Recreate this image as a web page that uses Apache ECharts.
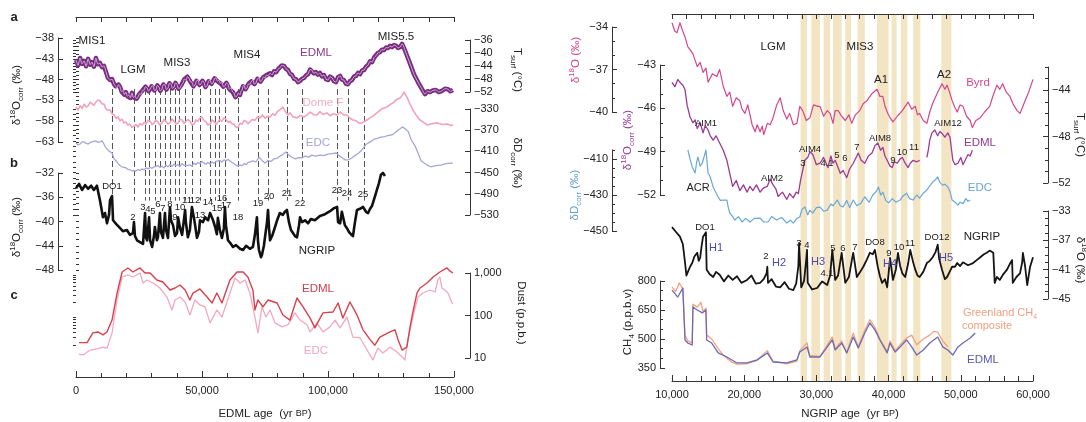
<!DOCTYPE html>
<html><head><meta charset="utf-8">
<script src="https://cdn.jsdelivr.net/npm/echarts@6/dist/echarts.min.js"></script>
<style>html,body{margin:0;padding:0;background:#fff}#c{width:1086px;height:422px}</style>
</head><body><div id="c"></div><script>
// ===================== DATA (age in yr BP, value in axis units) =====================
// ---- Left panel (EDML age) ----
const edmlD18O = [[0,-43.3],[800,-44.6],[1600,-42.8],[2400,-44.2],[3200,-43.5],[4000,-44.8],[4800,-43.0],[5600,-44.4],[6300,-43.8],[7100,-44.9],[7900,-42.8],[8700,-44.3],[9500,-44.0],[10300,-45.0],[11100,-44.7],[11900,-46.2],[12700,-47.6],[13500,-48.1],[14300,-47.9],[15100,-49.1],[15700,-49.6],[16300,-50.0],[16900,-49.2],[17500,-49.8],[18100,-50.9],[18600,-50.7],[19200,-51.6],[19800,-51.0],[20400,-52.0],[21000,-51.7],[21600,-52.4],[22200,-51.2],[22800,-52.3],[23400,-51.9],[24000,-52.6],[24600,-52.2],[25200,-51.4],[25800,-51.5],[26400,-50.6],[27000,-50.5],[27600,-49.7],[28200,-50.0],[28800,-50.8],[29400,-50.3],[30000,-49.6],[30600,-49.5],[31100,-50.6],[31700,-50.5],[32300,-49.4],[32900,-49.8],[33500,-50.7],[34100,-50.3],[34700,-49.2],[35300,-49.3],[35900,-50.4],[36500,-50.0],[37100,-48.9],[37700,-49.1],[38300,-50.1],[38900,-49.8],[39500,-48.8],[40100,-49.1],[40700,-50.2],[41300,-50.0],[41900,-49.2],[42500,-48.8],[43000,-47.9],[43600,-48.1],[44200,-47.3],[44800,-47.6],[45400,-48.5],[46000,-48.6],[46600,-49.6],[47200,-49.3],[47800,-48.3],[48400,-48.1],[49000,-49.3],[49600,-49.1],[50200,-48.3],[50800,-48.6],[51400,-49.8],[52000,-49.5],[52600,-48.4],[53200,-48.1],[53800,-49.0],[54400,-48.8],[55000,-47.7],[55600,-47.6],[56100,-48.4],[56700,-48.1],[57300,-48.9],[57900,-48.6],[58500,-49.7],[59100,-49.5],[59700,-48.8],[60300,-49.1],[60900,-50.3],[61500,-50.0],[62100,-50.9],[62700,-51.2],[63300,-52.2],[63900,-51.9],[64500,-51.2],[65100,-51.7],[65500,-50.8],[65900,-50.5],[66300,-49.6],[66700,-49.3],[67300,-50.3],[67900,-50.0],[68500,-49.0],[69000,-49.1],[69600,-48.4],[70200,-48.1],[70800,-49.1],[71400,-48.8],[72000,-47.8],[72600,-47.6],[73200,-48.5],[73800,-48.1],[74400,-47.4],[75000,-47.6],[75600,-46.9],[76200,-47.1],[77000,-46.5],[77800,-46.9],[78600,-46.0],[79400,-46.2],[80200,-45.5],[80900,-45.2],[81700,-44.6],[82500,-44.7],[83300,-45.4],[84100,-45.7],[84900,-46.6],[85700,-46.9],[86500,-47.8],[87300,-47.9],[88100,-48.6],[88900,-48.3],[89700,-47.8],[90500,-47.6],[91300,-47.0],[92100,-46.7],[92900,-45.6],[93600,-45.7],[94400,-46.5],[95200,-46.2],[96000,-46.8],[96800,-46.4],[97600,-47.2],[98400,-46.9],[99200,-47.9],[100000,-48.1],[100800,-47.3],[101600,-47.6],[102400,-48.4],[103200,-48.6],[104000,-47.4],[104800,-47.1],[105500,-48.0],[106300,-48.1],[107100,-49.0],[107900,-49.1],[108700,-48.4],[109500,-48.1],[110300,-47.3],[111100,-47.1],[111900,-46.4],[112700,-46.7],[113500,-45.8],[114300,-45.7],[115100,-44.9],[115900,-44.5],[116700,-43.6],[117500,-43.8],[118300,-42.7],[119000,-42.3],[119800,-41.6],[120600,-41.4],[121400,-40.8],[122200,-40.9],[123000,-40.3],[123800,-40.4],[124600,-39.9],[125400,-40.2],[126200,-39.7],[127000,-39.9],[127800,-40.4],[128600,-40.2],[129400,-39.4],[130500,-40.9],[131700,-42.8],[132900,-44.7],[134100,-46.7],[135700,-48.6],[137300,-50.3],[138500,-51.5],[139500,-50.8],[140500,-51.0],[141600,-50.6],[142800,-50.5],[144000,-51.0],[145200,-50.7],[146400,-50.2],[147600,-50.3],[148600,-50.8],[149600,-50.5]];

const domeFD18O = [[0,-54.6],[800,-55.3],[1600,-54.3],[2400,-54.9],[3200,-53.9],[4000,-54.6],[4800,-54.3],[5600,-53.4],[6300,-53.6],[7100,-54.2],[7900,-53.4],[8700,-52.9],[9500,-53.1],[10300,-53.8],[11100,-53.9],[11700,-54.8],[12300,-55.3],[12900,-55.0],[13500,-55.3],[14300,-56.2],[15100,-56.5],[15900,-57.3],[16700,-57.0],[17500,-57.9],[18300,-57.5],[19000,-58.4],[19800,-58.2],[20600,-58.9],[21400,-58.7],[22200,-59.5],[23000,-59.2],[23800,-58.8],[24600,-59.4],[25400,-58.6],[26200,-58.9],[27000,-58.3],[27800,-58.7],[28600,-57.8],[29400,-58.0],[30200,-58.8],[31000,-58.4],[31700,-57.7],[32500,-58.2],[33300,-58.9],[34100,-58.4],[34900,-57.6],[35700,-58.0],[36500,-58.7],[37300,-58.4],[38100,-57.5],[38900,-58.0],[39700,-58.7],[40500,-58.4],[41300,-57.5],[42100,-57.7],[42900,-58.5],[43600,-58.2],[44400,-57.6],[45200,-58.0],[46000,-58.9],[46800,-58.7],[47600,-57.7],[48400,-58.0],[49200,-57.2],[50000,-57.0],[50800,-57.8],[51600,-58.2],[52400,-58.9],[53200,-58.7],[54000,-57.7],[54800,-58.0],[55600,-58.8],[56300,-58.7],[57100,-57.6],[57900,-58.0],[58700,-57.2],[59500,-57.5],[60300,-58.3],[61100,-58.0],[61900,-58.6],[62700,-58.7],[63500,-59.5],[64300,-59.4],[65100,-58.5],[65900,-58.7],[66700,-57.8],[67500,-58.0],[68300,-58.6],[69000,-58.4],[70000,-57.6],[71000,-57.8],[72000,-57.0],[73000,-57.2],[74000,-56.5],[75000,-57.3],[76000,-56.8],[77000,-57.0],[78000,-56.2],[79000,-56.6],[80000,-55.6],[80900,-55.3],[82100,-54.6],[83000,-55.6],[84100,-56.5],[85000,-56.0],[86000,-56.9],[87700,-57.2],[89000,-56.6],[90500,-57.0],[91700,-56.5],[93000,-55.8],[94300,-56.4],[95600,-56.5],[96800,-55.7],[98000,-56.4],[99600,-56.0],[100800,-56.7],[102200,-56.2],[103600,-56.5],[104800,-55.8],[106200,-56.5],[107500,-56.5],[108800,-57.3],[109900,-57.7],[111200,-57.9],[112500,-58.5],[113500,-58.4],[115000,-57.9],[116700,-57.2],[118200,-56.6],[119800,-55.8],[121500,-55.0],[123400,-54.6],[124600,-54.0],[125800,-53.6],[127200,-52.8],[128600,-52.4],[129400,-51.8],[130200,-51.0],[131300,-52.2],[132500,-53.8],[133700,-55.3],[135000,-56.5],[136500,-57.7],[137900,-58.3],[139300,-58.9],[141300,-58.6],[143200,-58.4],[145200,-58.8],[147200,-58.7],[148500,-59.0],[149600,-58.9]];

const edcDD = [[0,-394],[800,-398],[1600,-396],[2400,-392],[3200,-392],[4000,-395],[4800,-396],[5600,-393],[6300,-394],[7100,-391],[7900,-390],[8700,-393],[9500,-392],[10300,-390],[11100,-396],[11700,-402],[12300,-404],[13000,-409],[13500,-411],[14300,-413],[15100,-424],[15900,-428],[16700,-433],[17500,-437],[18300,-439],[19000,-442],[19800,-441],[20600,-444],[21400,-445],[22200,-447],[23000,-446],[23800,-447],[24600,-444],[25400,-446],[26200,-443],[27000,-445],[27800,-441],[28600,-443],[29400,-440],[30200,-442],[31000,-439],[31700,-441],[32500,-437],[33300,-440],[34100,-438],[34900,-441],[35700,-436],[36500,-439],[37300,-435],[38100,-438],[38900,-434],[39700,-437],[40500,-435],[41300,-438],[42100,-433],[42900,-436],[43600,-434],[44400,-437],[45200,-435],[46000,-438],[46800,-432],[47600,-435],[48400,-431],[49200,-433],[50000,-429],[50800,-432],[51600,-434],[52400,-431],[53200,-434],[54000,-430],[54800,-432],[55600,-429],[56300,-431],[57100,-427],[57900,-430],[58700,-426],[59500,-428],[60300,-425],[61100,-428],[61900,-431],[62700,-433],[63500,-436],[64300,-438],[65100,-436],[65900,-437],[66700,-433],[67500,-435],[68300,-431],[69000,-432],[70200,-428],[71400,-430],[72600,-421],[73800,-427],[75000,-432],[76200,-427],[77400,-429],[78600,-424],[79800,-423],[80900,-419],[82000,-416],[83300,-411],[84500,-417],[85700,-421],[87000,-424],[88300,-422],[89700,-422],[91000,-419],[92300,-421],[93600,-417],[95000,-419],[96800,-417],[98400,-418],[100000,-415],[101600,-414],[103200,-413],[104400,-418],[105600,-422],[106800,-426],[108000,-426],[109300,-423],[110700,-418],[112200,-413],[113500,-407],[115000,-397],[116700,-392],[118400,-387],[119800,-385],[121000,-383],[122400,-382],[123800,-380],[125400,-379],[126800,-374],[128000,-369],[129600,-364],[130800,-368],[131900,-373],[133000,-388],[134600,-400],[135700,-413],[137000,-428],[138200,-432],[139400,-436],[140800,-439],[142800,-437],[144800,-436],[146800,-433],[148800,-432],[149600,-432]];

const ngripD18OLeft = [[0,-34.5],[1200,-33.8],[2400,-34.8],[3600,-34.0],[4800,-34.6],[6000,-34.1],[7100,-34.8],[8300,-34.1],[9500,-36.5],[10700,-39.3],[11500,-38.6],[12300,-40.3],[13100,-38.9],[13500,-36.5],[14300,-35.8],[14700,-39.8],[15900,-40.4],[17500,-41.1],[18600,-41.6],[20200,-41.4],[21400,-42.2],[22600,-41.9],[23000,-40.1],[23400,-42.4],[24200,-43.1],[25400,-43.4],[26600,-43.7],[27400,-38.6],[27800,-42.7],[28200,-43.1],[29000,-39.3],[29400,-43.1],[30200,-44.2],[31000,-42.2],[31300,-40.9],[32100,-43.1],[32500,-42.6],[33300,-38.6],[33700,-41.7],[34500,-42.7],[35300,-38.6],[35700,-41.4],[36500,-42.7],[37300,-37.6],[37700,-39.8],[38500,-40.6],[39300,-42.4],[40100,-41.9],[40500,-39.3],[41300,-41.1],[42100,-42.2],[43300,-38.1],[43600,-40.1],[44400,-42.6],[45200,-41.4],[46000,-37.6],[46800,-39.4],[47200,-40.4],[48000,-42.7],[48800,-41.7],[49200,-39.8],[50400,-40.1],[51200,-39.3],[52400,-39.8],[53200,-38.6],[54400,-39.8],[55200,-40.9],[55900,-42.1],[56300,-39.4],[57100,-41.4],[57900,-42.7],[58700,-41.1],[59100,-37.6],[59500,-40.6],[60300,-43.1],[61500,-43.7],[62300,-44.2],[63500,-43.9],[65100,-44.5],[66300,-44.7],[67500,-44.0],[69000,-44.5],[70200,-44.2],[71000,-42.2],[71800,-39.3],[72200,-43.1],[72600,-44.7],[73400,-45.9],[73800,-45.5],[74600,-43.9],[75000,-42.6],[75800,-40.1],[76200,-38.1],[76600,-41.1],[77000,-43.1],[77800,-42.4],[78600,-41.4],[79800,-39.8],[80900,-38.6],[82100,-38.9],[82900,-38.4],[83700,-38.1],[84500,-40.1],[85300,-41.4],[86100,-41.9],[86900,-42.4],[87700,-42.6],[88500,-40.6],[88900,-39.3],[89700,-40.1],[90900,-39.8],[92100,-40.3],[93200,-39.6],[94800,-39.8],[96800,-39.1],[98800,-38.8],[100800,-38.3],[102400,-37.8],[103600,-37.6],[104000,-40.1],[104800,-40.3],[105500,-38.4],[105900,-38.1],[106700,-40.6],[107500,-41.1],[108300,-41.7],[109100,-42.1],[109900,-42.4],[110700,-40.1],[111500,-38.1],[112700,-37.9],[113900,-37.6],[115100,-38.4],[115900,-38.6],[116700,-37.9],[117500,-37.4],[118600,-35.9],[119400,-34.8],[120200,-33.7],[121000,-32.3],[121800,-32.0],[122600,-32.5]];

const dustEDML = [[1200,23],[4400,23],[6700,39],[8700,41],[10700,35],[12300,41],[14300,78],[16300,338],[18300,1056],[20600,1313],[22600,1056],[25400,1313],[27400,1000],[29400,1000],[32100,684],[34500,614],[37300,398],[39300,444],[41300,522],[43300,398],[45200,232],[46400,338],[49200,421],[52000,272],[54000,197],[55900,338],[57900,197],[61100,684],[63900,1056],[66300,1056],[68200,805],[70200,398],[71000,135],[72200,232],[74200,159],[76200,232],[79800,197],[82100,103],[84900,78],[87700,258],[90100,159],[92900,87],[94800,51],[98000,115],[102000,121],[104000,197],[105900,87],[108700,208],[111500,103],[113900,46],[116700,27],[118600,20],[120600,31],[124600,41],[126600,46],[127800,27],[129400,15.4],[131300,18],[132500,51],[133700,121],[135300,338],[136500,444],[139300,581],[141700,805],[144400,1056],[147200,1313],[148400,1112],[149600,1000]];

const dustEDC = [[1200,12.4],[2800,11.8],[5600,15.4],[8300,16.3],[10700,18],[12300,17],[14300,39],[16300,232],[18300,805],[20600,898],[22600,805],[25400,1000],[26600,581],[28200,684],[30600,581],[33300,444],[36100,272],[38100,135],[39300,232],[41300,272],[43300,208],[45200,103],[47200,232],[49200,177],[51200,159],[53200,67],[55900,135],[57900,92],[61100,338],[63100,762],[65100,581],[67100,684],[69000,338],[71000,92],[72200,39],[73800,159],[75400,92],[77000,135],[79000,67],[81700,54],[84100,60],[86900,115],[88900,78],[91700,60],[92900,41],[95600,67],[98000,41],[100800,54],[102800,78],[104800,51],[107500,92],[108700,54],[109900,31],[112700,30],[115500,15.4],[117800,9.0],[119800,17],[121800,13.1],[124600,18],[127400,13.8],[129400,10.6],[130500,9.0],[131700,27],[133700,92],[135700,272],[137700,338],[140500,398],[142500,357],[143600,684],[144400,805],[145200,444],[146400,398],[147600,338],[149200,197],[149600,187]];

const doEventAges = [14300,23000,27400,29000,31300,33300,35300,37300,39300,40900,43300,46000,49200,53200,55200,56700,59100,64300,72200,76200,83700,89700,103600,107900,114300];

// ---- Right panel (NGRIP age) ----
const byrdD18O = [[10000,-33.7],[10400,-34.3],[10700,-34.4],[11100,-33.7],[11500,-34.3],[11800,-34.7],[12200,-35.4],[12500,-35.6],[12900,-35.9],[13500,-36.8],[13900,-36.5],[14300,-37.2],[14700,-36.9],[15000,-37.9],[15600,-37.3],[16200,-37.5],[16600,-37.0],[17100,-38.2],[17600,-38.9],[18000,-38.6],[18400,-39.6],[18900,-39.0],[19400,-39.2],[19700,-39.8],[20100,-40.1],[20500,-39.5],[21100,-40.9],[21500,-41.4],[21800,-40.9],[22200,-41.4],[22500,-41.0],[22700,-41.6],[23200,-40.8],[23600,-40.9],[24000,-40.4],[24500,-39.5],[25000,-39.0],[25400,-39.9],[25900,-40.5],[26300,-40.1],[26800,-40.9],[27300,-40.8],[27700,-39.6],[28100,-39.9],[28600,-40.6],[29100,-40.4],[29600,-39.5],[30200,-39.6],[30500,-39.6],[31000,-40.3],[31500,-39.9],[31900,-40.1],[32300,-40.8],[32600,-39.9],[33000,-39.9],[33500,-40.3],[34000,-40.6],[34500,-40.2],[34900,-40.8],[35400,-40.2],[36000,-39.9],[36500,-39.4],[37000,-39.2],[37700,-38.7],[38400,-38.4],[38800,-38.9],[39200,-38.9],[39500,-39.6],[39900,-40.1],[40200,-40.4],[40600,-40.7],[41200,-40.3],[41900,-39.9],[42300,-39.6],[42700,-39.3],[43200,-39.8],[43700,-39.6],[44000,-40.2],[44300,-40.1],[44800,-40.6],[45300,-40.8],[45700,-40.0],[46100,-39.4],[46800,-38.6],[47400,-38.0],[47800,-38.4],[48100,-38.1],[48500,-38.7],[48800,-39.2],[49200,-39.7],[49500,-40.0],[49900,-39.5],[50300,-39.6],[50800,-40.3],[51300,-40.6],[51600,-41.1],[52100,-40.6],[52700,-40.4],[53300,-40.0],[54000,-39.6],[54500,-38.8],[55000,-38.1],[55400,-38.4],[55800,-38.0],[56300,-38.6],[56800,-38.9],[57300,-39.5],[57800,-39.9],[58200,-40.1],[58600,-39.6],[58900,-39.2],[59400,-38.6],[60000,-37.7]];

const edmlD18ORight = [[10000,-44.2],[10400,-44.5],[10800,-44.0],[11100,-44.2],[11500,-44.4],[11800,-44.7],[12100,-45.8],[12500,-46.6],[12900,-47.0],[13200,-46.8],[13500,-47.4],[13900,-47.0],[14300,-47.7],[14600,-47.2],[15000,-47.5],[15300,-47.9],[15700,-48.2],[16100,-47.9],[16600,-48.4],[17100,-48.9],[17600,-49.6],[18000,-50.5],[18400,-51.4],[18900,-51.0],[19400,-51.7],[19900,-51.3],[20400,-51.8],[20800,-51.4],[21200,-51.7],[21700,-51.3],[22200,-51.8],[22700,-51.5],[23200,-51.4],[23600,-50.9],[24000,-51.3],[24400,-51.6],[24700,-52.1],[25300,-51.8],[25900,-52.3],[26300,-51.9],[26800,-52.2],[27200,-51.8],[27500,-51.9],[27800,-51.0],[28100,-50.3],[28400,-49.6],[28800,-49.4],[29100,-49.0],[29500,-49.2],[30000,-49.9],[30500,-49.8],[31000,-49.4],[31600,-50.1],[32000,-49.3],[32300,-49.8],[32600,-49.6],[33000,-50.1],[33300,-50.5],[33700,-50.3],[34200,-50.8],[34600,-50.2],[35100,-49.8],[35500,-49.4],[35800,-49.1],[36200,-49.6],[36700,-49.8],[37200,-49.3],[37700,-49.1],[38100,-48.6],[38500,-48.4],[38900,-48.9],[39200,-48.7],[39500,-49.3],[39800,-49.6],[40200,-50.0],[40500,-50.1],[40800,-49.7],[41200,-49.8],[41600,-49.5],[41900,-49.4],[42300,-49.8],[42700,-50.1],[43000,-49.8],[43400,-49.6],[43900,-49.7],[44300,-49.6],[44800,null],[45300,-49.4],[45500,-48.9],[45700,-48.2],[46000,-47.7],[46400,-47.5],[46800,-47.9],[47100,-47.6],[47500,-47.8],[47800,-48.0],[48200,-47.7],[48500,-48.0],[48700,-48.8],[48900,-49.6],[49200,-49.9],[49600,-49.8],[50000,-49.4],[50300,-49.9],[50600,-49.6],[51000,-49.2],[51300,-49.3],[51600,-48.9]];

const edcDDRight = [[12200,-405],[12500,-410],[12800,-414.4],[13200,-417.8],[13400,-412],[13600,-408.9],[13900,-414],[14200,-412.2],[14500,-408],[14700,-405],[15000,-417.8],[15300,-420],[15700,-425.6],[16000,-428],[16400,-431.1],[16700,-433],[17100,-432.8],[17600,-432.8],[17800,-437],[18000,-440],[18400,-442],[18700,-443.9],[19200,-442],[19700,-445],[20200,-443],[20800,-445],[21400,-443],[22200,-442.8],[22700,-445],[23300,-445],[23800,-442],[24500,-443.9],[25200,-442.5],[25900,-445.6],[26400,-444],[26800,-445.6],[27300,-443],[27700,-442.2],[28000,-438],[28400,-436.7],[28800,-441],[29100,-438.5],[29500,-440],[30000,-437],[30500,-436.7],[31000,-439],[31500,-438.4],[32000,-435],[32300,-436],[32900,-432.8],[33300,-436],[33700,-436.7],[34200,-433],[34600,-437],[35100,-432.8],[35600,-436],[36200,-434.4],[36700,-431],[37300,-434],[37800,-430],[38300,-428],[38600,-425.6],[38900,-430],[39200,-428.5],[39600,-433],[40000,-434.4],[40500,-432],[41000,-434],[41600,-432.8],[42000,-430.5],[42500,-429],[42900,-432],[43400,-432.8],[43900,-430],[44300,-431.7],[44800,-429],[45300,-427.2],[45700,-425],[46100,-422.8],[46500,-421.5],[46800,-420],[47100,-423],[47500,-424.5],[47800,-424],[48200,-425.6],[48500,-428],[48800,-432.8],[49200,-434],[49600,-435.6],[49900,-434],[50300,-434.8],[50700,-432],[51000,-433.5],[51300,-432.8]];

const ngripD18ORight = [[10000,-35.2],[10500,-35.8],[11100,-36.5],[11500,-37.5],[11800,-40.0],[12000,-41.8],[12200,-41.3],[12500,-40.6],[12800,-40.1],[13100,-39.2],[13500,-38.7],[13700,-39.8],[13900,-39.4],[14100,-37.8],[14300,-36.5],[14700,-35.9],[14800,-41.0],[15200,-41.6],[15700,-42.0],[16100,-41.3],[16600,-41.7],[17200,-42.6],[17800,-41.8],[18400,-42.4],[19000,-41.9],[19600,-42.8],[20400,-42.4],[21000,-41.8],[21600,-42.9],[22200,-42.8],[22700,-42.3],[23100,-41.5],[23200,-40.6],[23300,-42.8],[23800,-42.3],[24400,-43.3],[25000,-43.4],[25600,-42.7],[26200,-43.6],[26800,-43.8],[27200,-42.9],[27500,-40.5],[27600,-37.4],[27900,-43.4],[28300,-42.5],[28600,-39.5],[28700,-38.3],[28800,-42.8],[29400,-43.7],[30100,-43.5],[30800,-42.6],[31500,-43.1],[31900,-41.8],[32200,-38.3],[32600,-42.4],[33000,-41.8],[33500,-38.7],[34000,-42.8],[34500,-42.0],[35000,-39.2],[35100,-38.7],[35600,-42.0],[36000,-41.4],[36500,-40.6],[37000,-39.6],[37400,-38.7],[37800,-38.9],[38100,-38.3],[38500,-40.6],[38800,-41.9],[39100,-42.8],[39500,-42.3],[39800,-43.4],[40000,-41.5],[40200,-39.4],[40600,-42.4],[41000,-41.0],[41300,-38.7],[41600,-40.5],[41900,-41.5],[42300,-42.0],[42700,-40.2],[43000,-38.3],[43400,-40.0],[43700,-41.0],[44000,-41.8],[44300,-42.0],[44800,-41.3],[45300,-40.1],[45700,-39.8],[46100,-39.3],[46500,-38.6],[46800,-37.6],[47000,-39.5],[47400,-41.0],[47800,-42.3],[48100,-42.0],[48500,-41.2],[48800,-40.6],[49200,-40.6],[49500,-40.1],[49900,-40.5],[50300,-40.0],[51000,-40.4],[51700,-40.1],[52200,-39.7],[52700,-39.3],[53200,-38.9],[53600,-38.7],[54000,-38.4],[54500,-38.7],[54700,-42.8],[55000,-42.0],[55400,-42.4],[55900,-41.6],[56400,-41.0],[56800,-40.2],[57100,-39.7],[57200,-42.8],[57700,-42.0],[58200,-41.5],[58500,-40.0],[58600,-38.7],[58900,-40.5],[59200,-43.1],[59600,-40.6],[60000,-39.3]];

const ch4EDML = [[10000,753],[10800,717],[11500,764],[11800,495],[12200,479],[12800,469],[12900,666],[13500,650],[14200,635],[14700,650],[14800,495],[15500,479],[16400,428],[17600,407],[19000,376],[20400,376],[21800,392],[23200,428],[24000,381],[25900,376],[27300,392],[27700,433],[28700,459],[29100,407],[30500,407],[32200,495],[32600,443],[33500,479],[34200,428],[35100,510],[35800,454],[36700,531],[37400,583],[38100,547],[38800,495],[39800,428],[40200,479],[40900,433],[41600,459],[42500,495],[43200,459],[43900,417],[44800,443],[45700,479],[46800,510],[47500,459],[48200,443],[48900,417],[49600,459],[50300,479],[51300,505],[52000,531]];

const ch4Greenland = [[10000,770],[10500,745],[11000,790],[11500,760],[11800,520],[12200,490],[12800,480],[12900,680],[13500,665],[14000,690],[14300,640],[14700,660],[14800,520],[15500,500],[16400,450],[17000,420],[17600,400],[18300,380],[19000,370],[20400,372],[21800,390],[23200,440],[24000,385],[25900,372],[27300,385],[27700,440],[28700,480],[29100,415],[30500,410],[32200,510],[32600,450],[33500,490],[34200,430],[35100,530],[35800,460],[36700,545],[37400,600],[38100,560],[38800,500],[39800,435],[40200,490],[40900,440],[41600,470],[42500,505],[43200,520],[43900,470],[44800,500],[45700,520],[46300,540],[46800,535],[47500,490],[48200,460]];

const mis3Bands = [[27800,28700],[29300,30500],[31000,31900],[32300,33500],[34000,34800],[35700,36700],[38400,40000],[40400,41100],[41700,42600],[43400,44400],[47300,48700]];

// tick label values
const ticksEdmlL = [-63,-58,-53,-48,-43,-38];
const ticksNgripL = [-48,-44,-40,-36,-32];
const ticksTsurfL = [-52,-48,-44,-40,-36];
const ticksDDL = [-530,-490,-450,-410,-370,-330];
const ticksDust = [10,100,1000];
const ticksByrd = [-40,-37,-34];
const ticksEdmlR = [-52,-49,-46,-43];
const ticksEdcR = [-450,-430,-410];
const ticksCh4 = [350,500,650,800];
const ticksTsurfR = [-52,-48,-44];
const ticksNgripR = [-45,-41,-37,-33];

// ===================== BUILD =====================
const FONT = '"Liberation Sans", Arial, Helvetica, sans-serif';
const AX = '#333';
const PL = {left:76, width:378}, PR = {left:672, width:361};
const grids = [], xAxes = [], yAxes = [], series = [];
const range = (a,b,s)=>{const r=[];for(let v=a;v<=b+1e-9;v+=s)r.push(+v.toFixed(6));return r;};
const fmtNum = v => (v<0?'\u2212':'') + Math.abs(v).toLocaleString('en-US');
function addGrid(p, top, height, xmin, xmax){
  grids.push({left:p.left, width:p.width, top, height, containLabel:false});
  const gi = grids.length-1;
  xAxes.push({type:'value', gridIndex:gi, min:xmin, max:xmax, show:false});
  return {gi, xi: xAxes.length-1};
}
function addY(g, o){
  const base = {type:o.type||'value', gridIndex:g.gi, min:o.min, max:o.max, position:o.pos, offset:o.offset, splitLine:{show:false}};
  if (o.type==='log') base.logBase = 10;
  yAxes.push(Object.assign({}, base, {
    axisLine:{show:true, onZero:false, lineStyle:{color:AX, width:1}},
    axisTick:{show:true, inside:true, length:5, customValues:o.majors, lineStyle:{color:AX}},
    axisLabel:{show:true, customValues:o.majors, margin:4, fontSize:11, color:'#222', fontFamily:FONT, formatter:fmtNum}
  }));
  const idx = yAxes.length-1;
  if (o.minors) yAxes.push(Object.assign({}, base, {
    axisLine:{show:false}, axisTick:{show:true, inside:true, length:3, customValues:o.minors, lineStyle:{color:AX}}, axisLabel:{show:false}
  }));
  return idx;
}
function hiddenY(g){ yAxes.push({type:'value', gridIndex:g.gi, min:0, max:1, inverse:true, show:false}); return yAxes.length-1; }
function line(g, yi, data, color, width, extra){
  series.push(Object.assign({type:'line', xAxisIndex:g.xi, yAxisIndex:yi, data, showSymbol:false, symbol:'none', clip:false, silent:true, animation:false, connectNulls:false, z:3,
    lineStyle:{color, width, join:'round'}}, extra||{}));
}

// ---- Left panel ----
const gFL = addGrid(PL, 17, 360, 0, 150000);
Object.assign(xAxes[gFL.xi], {show:true, position:'bottom', interval:50000,
  axisLine:{show:true, onZero:false, lineStyle:{color:AX}}, axisTick:{show:true, inside:true, length:6, lineStyle:{color:AX}},
  minorTick:{show:true, splitNumber:5, length:4, lineStyle:{color:AX}},
  axisLabel:{margin:8, fontSize:11, color:'#222', fontFamily:FONT, formatter:fmtNum}, splitLine:{show:false}});
xAxes.push({type:'value', gridIndex:gFL.gi, min:0, max:150000, interval:10000, position:'top',
  axisLine:{show:true, onZero:false, lineStyle:{color:AX}}, axisTick:{show:true, inside:true, length:5, lineStyle:{color:AX}},
  axisLabel:{show:false}, splitLine:{show:false}});
const yFL = hiddenY(gFL);
series.push({type:'lines', coordinateSystem:'cartesian2d', xAxisIndex:gFL.xi, yAxisIndex:yFL, silent:true, z:1, animation:false,
  data: doEventAges.map(a=>({coords:[[a,0.2],[a,0.51]]})), lineStyle:{color:'#555', width:1, type:[6,3], opacity:1}});

const gEL = addGrid(PL, 38, 104, 0, 150000);
const yEL = addY(gEL, {min:-63, max:-38, majors:ticksEdmlL, minors:range(-63,-38,1), pos:'left', offset:18});
line(gEL, yEL, domeFD18O, '#f0a3b9', 1.6);
line(gEL, yEL, edmlD18O, '#7c2a80', 4.5);
line(gEL, yEL, edmlD18O, '#c6b2d6', 1, {smooth:0.3, z:4});

const gTL = addGrid(PL, 40, 52, 0, 150000);
addY(gTL, {min:-52, max:-36, majors:ticksTsurfL, minors:range(-52,-36,1), pos:'right', offset:16});

const gDL = addGrid(PL, 109, 106, 0, 150000);
const yDL = addY(gDL, {min:-530, max:-330, majors:ticksDDL, minors:range(-530,-330,10), pos:'right', offset:16});
line(gDL, yDL, edcDD, '#a6a6d8', 1.3);

const gNL = addGrid(PL, 173, 97, 0, 150000);
const yNL = addY(gNL, {min:-48, max:-32, majors:ticksNgripL, minors:range(-48,-32,1), pos:'left', offset:18});
line(gNL, yNL, ngripD18OLeft, '#111', 2.6);

const gUL = addGrid(PL, 273, 85, 0, 150000);
const dustMinor = [20,30,40,50,60,70,80,90,200,300,400,500,600,700,800,900];
const yUL = addY(gUL, {type:'log', min:10, max:1000, majors:ticksDust, minors:dustMinor, pos:'right', offset:16});
line(gUL, yUL, dustEDC, '#f3a9bd', 1.3);
line(gUL, yUL, dustEDML, '#d8404c', 1.4);

// ---- Right panel ----
const gFR = addGrid(PR, 14, 367, 10000, 60000);
Object.assign(xAxes[gFR.xi], {show:true, position:'bottom', interval:10000,
  axisLine:{show:true, onZero:false, lineStyle:{color:AX}}, axisTick:{show:true, inside:true, length:6, lineStyle:{color:AX}},
  minorTick:{show:true, splitNumber:5, length:5, lineStyle:{color:AX}},
  axisLabel:{margin:8, fontSize:11, color:'#222', fontFamily:FONT, formatter:fmtNum}, splitLine:{show:false}});
xAxes.push({type:'value', gridIndex:gFR.gi, min:10000, max:60000, interval:2000, position:'top',
  axisLine:{show:true, onZero:false, lineStyle:{color:AX}}, axisTick:{show:true, inside:true, length:5, lineStyle:{color:AX}},
  axisLabel:{show:false}, splitLine:{show:false}});
const yFR = hiddenY(gFR);
series.push({type:'custom', xAxisIndex:gFR.xi, yAxisIndex:yFR, data:mis3Bands, encode:{x:[0,1]}, silent:true, z:0, animation:false, clip:false,
  renderItem:(p, api)=>{ const a = api.coord([api.value(0),0]); const b = api.coord([api.value(1),1]);
    return {type:'rect', shape:{x:a[0], y:Math.min(a[1],b[1]), width:b[0]-a[0], height:Math.abs(b[1]-a[1])}, style:{fill:'#f3e4c3'}}; }});

const gBy = addGrid(PR, 27, 85, 10000, 60000);
const yBy = addY(gBy, {min:-40, max:-34, majors:ticksByrd, minors:range(-40,-34,1), pos:'left', offset:60});
line(gBy, yBy, byrdD18O, '#d5478c', 1.2);

const gER = addGrid(PR, 65, 130, 10000, 60000);
const yER = addY(gER, {min:-52, max:-43, majors:ticksEdmlR, minors:range(-52,-43,1), pos:'left', offset:12});
line(gER, yER, edmlD18ORight, '#9a3b98', 1.3);

const gCR = addGrid(PR, 150, 81, 10000, 60000);
const yCR = addY(gCR, {min:-450, max:-405, majors:ticksEdcR, minors:range(-450,-405,5), pos:'left', offset:60});
line(gCR, yCR, edcDDRight, '#6aa8d8', 1.2);

const gCH = addGrid(PR, 281, 87, 10000, 60000);
const yCH = addY(gCH, {min:350, max:800, majors:ticksCh4, minors:range(350,800,50), pos:'left', offset:12});
line(gCH, yCH, ch4Greenland, '#f2a27e', 1.3);
line(gCH, yCH, ch4EDML, '#6b6bb6', 1.3);

const gTR = addGrid(PR, 67, 116, 10000, 60000);
addY(gTR, {min:-52, max:-42, majors:ticksTsurfR, minors:range(-52,-42,1), pos:'right', offset:15});

const gNR = addGrid(PR, 211, 88, 10000, 60000);
const yNR = addY(gNR, {min:-45, max:-33, majors:ticksNgripR, minors:range(-45,-33,1), pos:'right', offset:15});
line(gNR, yNR, ngripD18ORight, '#151515', 1.8);

// ---- Text ----
function RICH(s, c){ const k = Math.round(s*0.68);
  return {sup:{fontSize:k, fill:c, fontFamily:FONT, verticalAlign:'top', lineHeight:s+5},
          sub:{fontSize:k, fill:c, fontFamily:FONT, verticalAlign:'bottom', lineHeight:s+5},
          sc:{fontSize:Math.round(s*0.8), fill:c, fontFamily:FONT, lineHeight:s+5}}; }
const txt = (t, x, y, o={}) => ({type:'text', x, y, rotation:o.rot||0, silent:true, z:100,
  style:{text:t, fill:o.c||'#222', fontSize:o.s||11, fontFamily:FONT, fontWeight:o.b?'bold':'normal', align:'center', verticalAlign:'middle', lineHeight:(o.s||11)+5, rich:RICH(o.s||11, o.c||'#222')}});
const CCW = Math.PI/2, CW = -Math.PI/2;
const D18 = 'δ{sup|18}O{sub|corr} (‰)';
const G = [
  txt('a',14,17,{b:true,s:13}), txt('b',14,163,{b:true,s:13}), txt('c',14,295,{b:true,s:13}),
  txt(D18,17,95,{rot:CCW,s:11.5}), txt(D18,17,227,{rot:CCW,s:11.5}),
  txt('T{sub|surf} (°C)',517,70,{rot:CW,s:11.5}), txt('δD{sub|corr} (‰)',517,163,{rot:CW,s:11.5}), txt('Dust (p.p.b.)',521,313,{rot:CW,s:11.5}),
  txt('EDML age  (yr {sc|BP})',265,414,{s:11.5}),
  txt('MIS1',92,41,{s:11.5}), txt('LGM',133,70,{s:11.5}), txt('MIS3',177,63,{s:11.5}), txt('MIS4',247,55,{s:11.5}),
  txt('EDML',316,53,{s:11.5,c:'#8e3a8e'}), txt('MIS5.5',396,37,{s:11.5}), txt('Dome F',323,103,{s:11.5,c:'#f2aec0'}),
  txt('EDC',318,143,{s:11.5,c:'#a4a4d4'}), txt('NGRIP',317,251,{s:11.5}), txt('EDML',318,289,{s:11.5,c:'#d23c48'}), txt('EDC',316,351,{s:11.5,c:'#f2a8bd'}),
  txt('DO1',112,186,{s:9.5}),
  // right
  txt('δ{sup|18}O (‰)',576,60,{rot:CCW,s:11.5,c:'#d5478c'}), txt(D18,628,140,{rot:CCW,s:11.5,c:'#9a3b98'}),
  txt('δD{sub|corr} (‰)',575,195,{rot:CCW,s:11.5,c:'#5f9fd3'}), txt('CH{sub|4} (p.p.b.v)',628,322,{rot:CCW,s:11.5}),
  txt('T{sub|surf} (°C)',1080,135,{rot:CW,s:11.5}), txt('δ{sup|18}O (‰)',1080,260,{rot:CW,s:11.5}),
  txt('NGRIP age  (yr {sc|BP})',850,414,{s:11.5}),
  txt('LGM',773,47,{s:11.5}), txt('MIS3',860,47,{s:11.5}), txt('A1',881,80,{s:11.5}), txt('A2',944,75,{s:11.5}),
  txt('Byrd',978,83,{s:11.5,c:'#d5478c'}), txt('EDML',980,143,{s:11.5,c:'#933b93'}), txt('EDC',980,188,{s:11.5,c:'#6aa6d6'}),
  txt('ACR',698,188,{s:11}), txt('NGRIP',982,237,{s:11.5}),
  txt('Greenland CH{sub|4}',1000,313,{s:11,c:'#f0a07e'}), txt('composite',987,326,{s:11,c:'#f0a07e'}), txt('EDML',983,360,{s:11.5,c:'#5a5aaa'})
];
const numL = [['2',133,217],['3',143,207],['4',148,209],['5',153,211],['6',158,204],['7',163,208],['8',170,204],['9',175,217],['10',180,207],['11',187,200],['12',195,200],['13',200,215],['14',208,202],['15',217,208],['16',222,198],['17',226,205],['18',238,217],['19',258,203],['20',269,196],['21',287,193],['22',300,203],['23',337,190],['24',347,193],['25',363,194]];
numL.forEach(n=>G.push(txt(n[0],n[1],n[2],{s:9.5})));
const numR = [['AIM1',706,123],['AIM2',772,178],['AIM4',810,149],['3',803,163],['4.1',827,163],['5',837,155],['6',845,158],['7',857,147],['AIM8',880,138],['9',893,160],['10',902,152],['11',914,147],['AIM12',948,123],
  ['DO1',705,227],['2',766,256],['3',799,243],['4',807,245],['4.1',827,273],['5',833,248],['6',843,248],['7',855,247],['DO8',875,242],['9',889,253],['10',899,247],['11',910,243],['DO12',937,237]];
numR.forEach(n=>G.push(txt(n[0],n[1],n[2],{s:9.5})));
[['H1',716,248],['H2',779,263],['H3',818,262],['H4',890,264],['H5',946,258]].forEach(n=>G.push(txt(n[0],n[1],n[2],{s:11,c:'#4b4ba5'})));

const chart = echarts.init(document.getElementById('c'), null, {renderer:'canvas', width:1086, height:422});
chart.setOption({animation:false, backgroundColor:'#fff', textStyle:{fontFamily:FONT}, grid:grids, xAxis:xAxes, yAxis:yAxes, series, graphic:G});
</script></body></html>
